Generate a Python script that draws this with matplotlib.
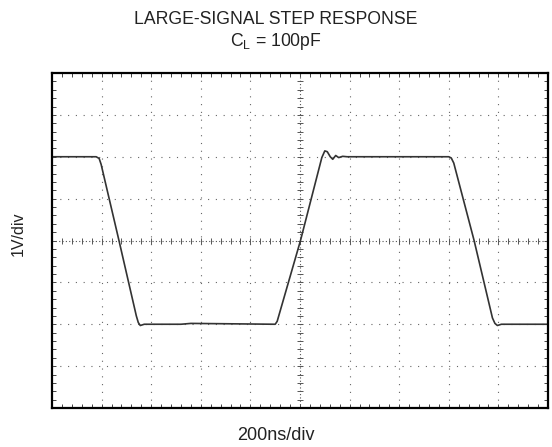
import matplotlib.pyplot as plt
import numpy as np

plt.rcParams['font.family'] = ['Liberation Sans', 'DejaVu Sans']

# Trace vertices (x in divisions 0..10, y in divisions -4..4)
t_div = [0.00, 0.89, 0.95, 0.99, 1.35, 1.70, 1.74, 1.78, 1.86, 2.60, 2.80, 4.50,
         4.54, 5.01, 5.44, 5.50, 5.55, 5.61, 5.66, 5.72, 5.78, 5.86, 5.95, 8.00,
         8.05, 8.10, 8.51, 8.88, 8.93, 8.98, 9.06, 10.0]
v_div = [2.00, 2.00, 1.96, 1.82, 0.00, -1.80, -1.96, -2.03, -2.00, -2.00, -1.98, -2.00,
         -1.93, 0.00, 1.98, 2.14, 2.12, 2.00, 1.94, 2.03, 1.98, 2.01, 2.00, 2.00,
         1.97, 1.85, 0.00, -1.85, -1.98, -2.03, -2.00, -2.00]

x_divs = 10
y_divs = 8

fig = plt.figure(figsize=(5.52, 4.47), dpi=100)
ax = fig.add_axes([52 / 552, 39 / 447, 496 / 552, 335 / 447])
ax.set_xlim(0, x_divs)
ax.set_ylim(-y_divs / 2, y_divs / 2)

# dotted graticule
for xv in range(1, x_divs):
    if xv != x_divs // 2:
        ax.axvline(xv, color='#666666', lw=0.8, ls=(0, (1, 6)))
for yv in range(-3, 4):
    if yv != 0:
        ax.axhline(yv, color='#666666', lw=0.8, ls=(0, (1, 6)))

# centre lines with fine ticks
ax.axvline(5, color='#555555', lw=0.8, ls=(0, (1, 2)))
ax.axhline(0, color='#555555', lw=0.8, ls=(0, (1, 2)))
minor_x = np.arange(0, x_divs + 0.01, 0.2)
minor_y = np.arange(-4, 4.01, 0.2)
ax.plot(minor_x, np.zeros_like(minor_x), ls='none', marker='|', ms=5, mew=0.7, color='#555555')
ax.plot(np.full_like(minor_y, 5), minor_y, ls='none', marker='_', ms=5, mew=0.7, color='#555555')

# trace
ax.plot(t_div, v_div, color='#333333', lw=1.2)

# frame ticks
ax.set_xticks(minor_x)
ax.set_yticks(minor_y)
ax.tick_params(direction='in', length=3, width=0.7, color='#444444',
               top=True, right=True, labelbottom=False, labelleft=False)
for s in ax.spines.values():
    s.set_linewidth(1.6)
    s.set_color('black')

txt = '#222222'
fig.text(0.5, 1 - 20 / 447, 'LARGE-SIGNAL STEP RESPONSE', ha='center', va='center',
         fontsize=12.7, color=txt)
fig.text(0.5, 1 - 42 / 447, r'C$_\mathregular{L}$ = 100pF', ha='center', va='center',
         fontsize=12.7, color=txt)
fig.text(18 / 552, 1 - 234 / 447, '1V/div', rotation=90, ha='center', va='center',
         fontsize=11.5, color=txt)
fig.text(0.5, 1 - 436 / 447, '200ns/div', ha='center', va='center', fontsize=13, color=txt)

fig.savefig('out.png', dpi=100)
